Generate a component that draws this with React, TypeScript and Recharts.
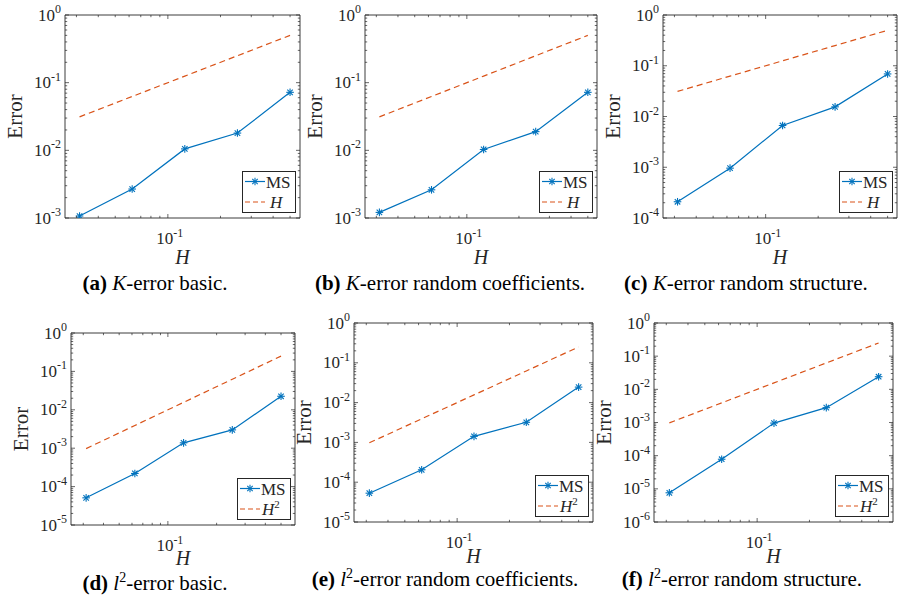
import React from 'react';
import { LineChart, Line, XAxis, YAxis, ReferenceArea } from 'recharts';

// ---- data ----
const H_VALUES = [0.03125, 0.0625, 0.125, 0.25, 0.5];
const REF_H = [0.03125, 0.0625, 0.125, 0.25, 0.5];
const REF_H2 = [0.000977, 0.003906, 0.015625, 0.0625, 0.25];
const MS_A = [1.07e-3, 2.68e-3, 1.05e-2, 1.8e-2, 7.2e-2];
const MS_B = [1.21e-3, 2.61e-3, 1.03e-2, 1.89e-2, 7.2e-2];
const MS_C = [2.09e-4, 9.6e-4, 6.65e-3, 1.55e-2, 6.9e-2];
const MS_D = [5.1e-5, 2.2e-4, 1.38e-3, 3.0e-3, 2.25e-2];
const MS_E = [5.3e-5, 2.05e-4, 1.42e-3, 3.2e-3, 2.45e-2];
const MS_F = [7.6e-6, 7.8e-5, 9.6e-4, 2.8e-3, 2.4e-2];

const X_TICKS = [0.03, 0.04, 0.05, 0.06, 0.07, 0.08, 0.09, 0.1, 0.2, 0.3, 0.4, 0.5];
const MINOR_MULTS = [2, 3, 4, 5, 6, 7, 8, 9];
const Y_DECADES_3 = [-3, -2, -1, 0];
const Y_DECADES_4 = [-4, -3, -2, -1, 0];
const Y_DECADES_5 = [-5, -4, -3, -2, -1, 0];
const Y_DECADES_6 = [-6, -5, -4, -3, -2, -1, 0];

const BLUE = '#0072BD';
const ORANGE = '#D95319';
const AX = '#262626';
const SERIF = '"Liberation Serif", "Times New Roman", serif';

function yTicksFor(decades: number[]) {
  const out: number[] = [];
  decades.forEach((d, i) => {
    out.push(Math.pow(10, d));
    if (i < decades.length - 1) MINOR_MULTS.forEach((m) => out.push(m * Math.pow(10, d)));
  });
  return out;
}

const PADL = 65;
const PADT = 12;
const PADR = 4;
const PADB = 50;

function isMajor(v: number) {
  const l = Math.log10(v);
  return Math.abs(l - Math.round(l)) < 1e-6;
}

function Pow10Label({ x, y, v, anchor }: { x: number; y: number; v: number; anchor: string }) {
  const e = Math.round(Math.log10(v));
  return (
    <text x={x} y={y} textAnchor={anchor as any} fontFamily={SERIF} fontSize={17} fill={AX}>
      <tspan>10</tspan>
      <tspan fontSize={12} dy={-7.5}>{String(e)}</tspan>
    </text>
  );
}

function Asterisk(props: any) {
  const { cx, cy } = props;
  if (cx == null || cy == null) return <g />;
  const r = 3.8;
  const d = r * 0.72;
  return (
    <g stroke={BLUE} strokeWidth={1.1}>
      <line x1={cx - r} y1={cy} x2={cx + r} y2={cy} />
      <line x1={cx} y1={cy - r} x2={cx} y2={cy + r} />
      <line x1={cx - d} y1={cy - d} x2={cx + d} y2={cy + d} />
      <line x1={cx - d} y1={cy + d} x2={cx + d} y2={cy - d} />
    </g>
  );
}

type PanelProps = {
  boxLeft: number;
  boxTop: number;
  boxW: number;
  boxH: number;
  xDomain: [number, number];
  decades: number[];
  ms: number[];
  refv: number[];
  squared: boolean;
  hLabelDist: number;
};

function Panel(p: PanelProps) {
  const data = H_VALUES.map((h, i) => ({ h, ms: p.ms[i], ref: p.refv[i] }));
  const yMin = Math.pow(10, p.decades[0]);
  const yTicks = yTicksFor(p.decades);
  const plotTop = PADT;
  const plotBottom = PADT + p.boxH;
  const plotLeft = PADL;
  const plotRight = PADL + p.boxW;

  const xTick = (props: any) => {
    const { x, payload } = props;
    const v = payload.value;
    const major = isMajor(v);
    const len = major ? 4 : 2.2;
    return (
      <g>
        <line x1={x} x2={x} y1={plotBottom} y2={plotBottom - len} stroke={AX} strokeWidth={0.7} />
        <line x1={x} x2={x} y1={plotTop} y2={plotTop + len} stroke={AX} strokeWidth={0.7} />
        {major && <Pow10Label x={x + 2} y={plotBottom + 26} v={v} anchor="middle" />}
      </g>
    );
  };

  const yTick = (props: any) => {
    const { y, payload } = props;
    const v = payload.value;
    const major = isMajor(v);
    const len = major ? 4 : 2.2;
    return (
      <g>
        <line x1={plotLeft} x2={plotLeft + len} y1={y} y2={y} stroke={AX} strokeWidth={0.7} />
        <line x1={plotRight} x2={plotRight - len} y1={y} y2={y} stroke={AX} strokeWidth={0.7} />
        {major && <Pow10Label x={plotLeft - 4} y={y + 5.5} v={v} anchor="end" />}
      </g>
    );
  };

  const yLabel = () => {
    const cy = PADT + p.boxH / 2;
    const cx = plotLeft - 50;
    return (
      <text x={cx} y={cy} transform={`rotate(-90, ${cx}, ${cy})`} textAnchor="middle" dominantBaseline="central" fontFamily={SERIF} fontSize={21} fill={AX}>
        Error
      </text>
    );
  };

  const xLabel = () => {
    const cx = plotLeft + p.boxW / 2;
    return (
      <text x={cx} y={plotBottom + p.hLabelDist + 7} textAnchor="middle" fontFamily={SERIF} fontStyle="italic" fontSize={20} fill={AX}>
        H
      </text>
    );
  };

  const legRight = p.boxLeft + p.boxW - 4;
  const legBottom = p.boxTop + p.boxH - 5;
  const legW = 54;
  const legH = 42;

  return (
    <>
      <div style={{ position: 'absolute', left: p.boxLeft - PADL, top: p.boxTop - PADT }}>
        <LineChart
          width={p.boxW + PADL + PADR}
          height={p.boxH + PADT + PADB}
          data={data}
          margin={{ top: PADT, right: PADR, left: 0, bottom: 0 }}
        >
          <XAxis
            dataKey="h"
            type="number"
            scale="log"
            domain={p.xDomain}
            allowDataOverflow
            ticks={X_TICKS}
            interval={0}
            tick={xTick}
            tickLine={false}
            axisLine={false}
            height={PADB}
            label={{ content: xLabel }}
          />
          <YAxis
            type="number"
            scale="log"
            domain={[yMin, 1]}
            allowDataOverflow
            ticks={yTicks}
            interval={0}
            tick={yTick}
            tickLine={false}
            axisLine={false}
            width={PADL}
            label={{ content: yLabel }}
          />
          <ReferenceArea
            x1={p.xDomain[0]}
            x2={p.xDomain[1]}
            y1={yMin}
            y2={1}
            fill="none"
            fillOpacity={0}
            stroke={AX}
            strokeWidth={0.9}
            ifOverflow="visible"
          />
          <Line
            dataKey="ref"
            stroke={ORANGE}
            strokeWidth={1.2}
            strokeDasharray="6 4"
            dot={false}
            isAnimationActive={false}
          />
          <Line
            dataKey="ms"
            stroke={BLUE}
            strokeWidth={1.2}
            dot={(dp: any) => <Asterisk key={dp.key ?? dp.index} {...dp} />}
            isAnimationActive={false}
          />
        </LineChart>
      </div>
      <div
        style={{
          position: 'absolute',
          left: legRight - legW,
          top: legBottom - legH,
          width: legW - 2,
          height: legH - 2,
          border: `1px solid ${AX}`,
          background: '#fff',
          fontFamily: SERIF,
          fontSize: 17,
          color: AX,
        }}
      >
        <svg width={legW - 2} height={legH - 2} style={{ position: 'absolute', left: 0, top: 0 }}>
          <line x1={2} x2={22} y1={9.5} y2={9.5} stroke={BLUE} strokeWidth={1.2} />
          <Asterisk cx={12} cy={9.5} />
          <line x1={2} x2={22} y1={30} y2={30} stroke={ORANGE} strokeWidth={1.2} strokeDasharray="5 3" />
          <text x={23} y={15.5} fontFamily={SERIF} fontSize={17} fill={AX}>MS</text>
          <text x={p.squared ? 24 : 27} y={36} fontFamily={SERIF} fontSize={17} fill={AX}>
            <tspan fontStyle="italic">H</tspan>
            {p.squared && <tspan fontSize={11} dy={-7}>2</tspan>}
          </text>
        </svg>
      </div>
    </>
  );
}

function Caption({ cx, cy, letter, l2, rest }: { cx: number; cy: number; letter: string; l2: boolean; rest: string }) {
  return (
    <div
      style={{
        position: 'absolute',
        left: cx - 200,
        top: cy - 10,
        width: 400,
        height: 20,
        textAlign: 'center',
        fontFamily: SERIF,
        fontSize: 21,
        lineHeight: '20px',
        color: '#000',
        whiteSpace: 'nowrap',
      }}
    >
      <b>({letter})</b>{' '}
      {l2 ? (
        <>
          <i>l</i>
          <sup style={{ fontSize: 14, verticalAlign: 'super', lineHeight: 0 }}>2</sup>
        </>
      ) : (
        <i>K</i>
      )}
      {rest}
    </div>
  );
}

export default function App() {
  return (
    <div style={{ position: 'absolute', left: 0, top: 0, width: 901, height: 600, background: '#fff', overflow: 'hidden' }}>
      <Panel boxLeft={65} boxTop={15} boxW={235} boxH={203} xDomain={[0.0258, 0.57]} decades={Y_DECADES_3} ms={MS_A} refv={REF_H} squared={false} hLabelDist={39} />
      <Panel boxLeft={365} boxTop={15} boxW={232} boxH={203} xDomain={[0.0258, 0.565]} decades={Y_DECADES_3} ms={MS_B} refv={REF_H} squared={false} hLabelDist={39} />
      <Panel boxLeft={663} boxTop={15} boxW={234} boxH={203} xDomain={[0.0258, 0.566]} decades={Y_DECADES_4} ms={MS_C} refv={REF_H} squared={false} hLabelDist={39} />
      <Panel boxLeft={71} boxTop={333} boxW={224} boxH={192} xDomain={[0.0252, 0.61]} decades={Y_DECADES_5} ms={MS_D} refv={REF_H2} squared={true} hLabelDist={33} />
      <Panel boxLeft={354} boxTop={323} boxW={239} boxH={199} xDomain={[0.0255, 0.605]} decades={Y_DECADES_5} ms={MS_E} refv={REF_H2} squared={true} hLabelDist={34} />
      <Panel boxLeft={654} boxTop={323} boxW={239} boxH={199} xDomain={[0.0255, 0.605]} decades={Y_DECADES_6} ms={MS_F} refv={REF_H2} squared={true} hLabelDist={34} />
      <Caption cx={155} cy={283} letter="a" l2={false} rest="-error basic." />
      <Caption cx={450} cy={283} letter="b" l2={false} rest="-error random coefficients." />
      <Caption cx={746} cy={283} letter="c" l2={false} rest="-error random structure." />
      <Caption cx={155} cy={583} letter="d" l2={true} rest="-error basic." />
      <Caption cx={445} cy={579} letter="e" l2={true} rest="-error random coefficients." />
      <Caption cx={742} cy={579} letter="f" l2={true} rest="-error random structure." />
    </div>
  );
}
